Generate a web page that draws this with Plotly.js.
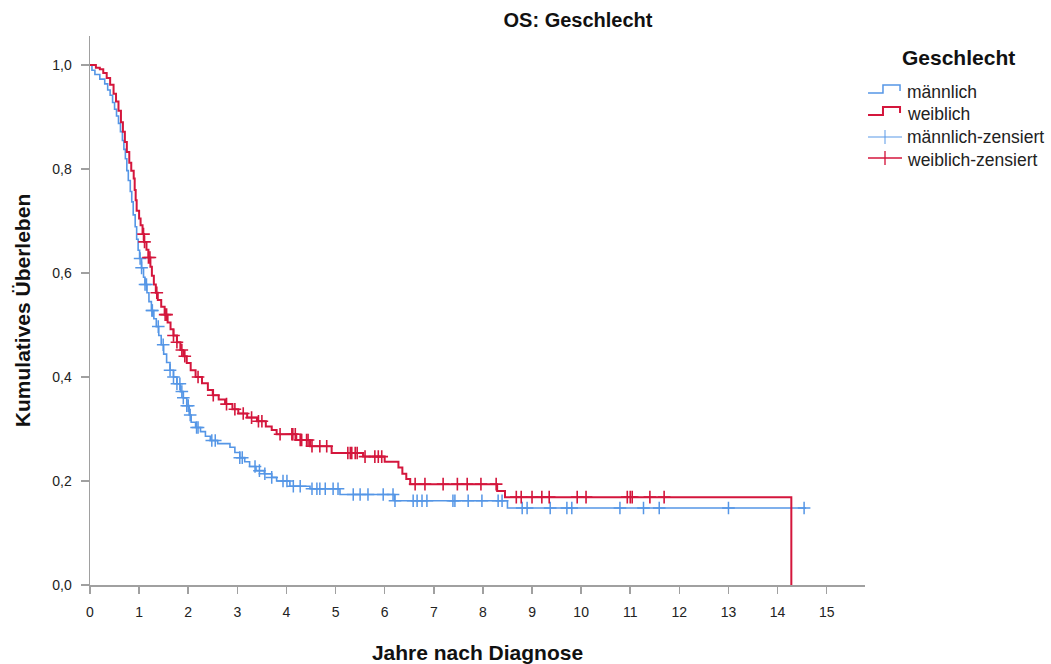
<!DOCTYPE html>
<html>
<head>
<meta charset="utf-8">
<script src="https://cdn.plot.ly/plotly-3.0.1.min.js"></script>
<style>html,body{margin:0;padding:0;background:#fff;}#chart{width:1051px;height:664px;}</style>
</head>
<body>
<div id="chart"></div>
<script>
// Kaplan-Meier step data (Jahre nach Diagnose, kumulatives Überleben)
const maleTimes = [0,0.04,0.1,0.2,0.3,0.36,0.41,0.46,0.5,0.54,0.58,0.62,0.66,0.69,0.72,0.75,0.78,0.82,0.85,0.88,0.92,0.95,0.98,1.01,1.05,1.09,1.12,1.16,1.2,1.25,1.3,1.35,1.4,1.45,1.5,1.56,1.63,1.7,1.77,1.84,1.9,1.97,2.02,2.06,2.15,2.25,2.35,2.45,2.6,2.85,2.95,3.05,3.15,3.25,3.38,3.55,3.7,3.8,4.07,4.48,5.09,6.2,8.5,14.58];
const maleSurv  = [1,0.99,0.982,0.973,0.964,0.952,0.942,0.928,0.915,0.902,0.888,0.872,0.855,0.838,0.82,0.797,0.778,0.757,0.737,0.712,0.689,0.665,0.644,0.628,0.61,0.592,0.578,0.562,0.545,0.528,0.512,0.497,0.48,0.462,0.444,0.428,0.413,0.4,0.387,0.372,0.36,0.345,0.327,0.313,0.303,0.295,0.286,0.278,0.272,0.265,0.255,0.245,0.237,0.228,0.22,0.214,0.207,0.2,0.19,0.185,0.174,0.162,0.148,0.148];
const femaleTimes = [0,0.12,0.2,0.27,0.34,0.41,0.48,0.53,0.58,0.63,0.67,0.71,0.75,0.8,0.84,0.89,0.91,0.93,0.95,1.0,1.03,1.07,1.1,1.15,1.19,1.23,1.26,1.3,1.34,1.38,1.45,1.52,1.58,1.64,1.7,1.77,1.84,1.9,1.97,2.05,2.15,2.28,2.4,2.5,2.62,2.75,2.9,3.02,3.2,3.4,3.58,3.7,3.8,4.2,4.48,4.92,5.56,6.0,6.28,6.36,6.44,6.52,8.29,8.45,14.28];
const femaleSurv  = [1,0.995,0.992,0.985,0.975,0.962,0.945,0.93,0.912,0.89,0.872,0.852,0.833,0.812,0.797,0.782,0.76,0.74,0.72,0.705,0.692,0.675,0.66,0.645,0.63,0.612,0.595,0.578,0.562,0.548,0.535,0.52,0.505,0.492,0.48,0.467,0.452,0.44,0.427,0.413,0.4,0.388,0.375,0.365,0.357,0.348,0.338,0.33,0.322,0.315,0.305,0.298,0.29,0.279,0.267,0.254,0.247,0.237,0.226,0.214,0.204,0.194,0.181,0.169,0];
// censored observation times
const maleCensored = [1.02,1.05,1.12,1.15,1.26,1.27,1.39,1.49,1.63,1.7,1.77,1.83,1.87,1.9,1.97,2.0,2.04,2.17,2.2,2.48,2.55,3.05,3.1,3.36,3.45,3.56,3.7,3.93,4.01,4.14,4.28,4.52,4.62,4.68,4.79,4.95,5.05,5.36,5.5,5.66,5.97,6.17,6.21,6.58,6.66,6.76,6.86,7.39,7.43,7.7,7.98,8.31,8.39,8.8,8.9,9.37,9.71,9.81,10.79,11.27,11.59,13.0,14.54];
const femaleCensored = [1.09,1.11,1.19,1.22,1.36,1.53,1.56,1.7,1.77,1.87,1.93,2.2,2.51,2.78,2.95,3.12,3.29,3.43,3.5,3.87,4.11,4.13,4.18,4.28,4.31,4.41,4.44,4.52,4.68,4.82,5.25,5.3,5.33,5.4,5.44,5.6,5.8,5.87,5.94,6.62,6.82,7.19,7.48,7.68,7.96,8.27,8.68,8.78,9.0,9.2,9.35,9.92,10.1,10.94,11.0,11.04,11.4,11.69];
const groupLabels = ['männlich','weiblich','männlich-zensiert','weiblich-zensiert'];
const xTickVals = [0,1,2,3,4,5,6,7,8,9,10,11,12,13,14,15];
const yTickVals = [0,0.2,0.4,0.6,0.8,1.0];
const yTickText = ['0,0','0,2','0,4','0,6','0,8','1,0'];

const BLUE = '#5596e6', RED = '#d4163c';
function survAt(times, surv, t){ let s = surv[0]; for(let i=0;i<times.length;i++){ if(times[i] <= t) s = surv[i]; else break; } return s; }

const traces = [
  {x: maleTimes, y: maleSurv, mode:'lines', line:{shape:'hv', color:BLUE, width:1.6}, showlegend:false, hoverinfo:'skip'},
  {x: femaleTimes, y: femaleSurv, mode:'lines', line:{shape:'hv', color:RED, width:2}, showlegend:false, hoverinfo:'skip'},
  {x: maleCensored, y: maleCensored.map(t=>survAt(maleTimes, maleSurv, t)), mode:'markers', marker:{symbol:'cross-thin', size:9, line:{color:BLUE, width:1.5}}, showlegend:false, hoverinfo:'skip'},
  {x: femaleCensored, y: femaleCensored.map(t=>survAt(femaleTimes, femaleSurv, t)), mode:'markers', marker:{symbol:'cross-thin', size:9, line:{color:RED, width:1.6}}, showlegend:false, hoverinfo:'skip'}
];

// pixel -> paper helpers for the hand-drawn legend
const L=90, R=865, T=36, B=585;
const px = v => (v-L)/(R-L);
const py = v => (B-v)/(B-T);
function path(pts){ return pts.map((p,i)=>(i?'L':'M')+px(p[0]).toFixed(4)+','+py(p[1]).toFixed(4)).join(' '); }

const shapes = [
  {type:'path', xref:'paper', yref:'paper', path: path([[868,93],[883,93],[883,85],[900,85],[900,91]]), line:{color:BLUE, width:1.5}},
  {type:'path', xref:'paper', yref:'paper', path: path([[868,115],[883,115],[883,107],[900,107],[900,113]]), line:{color:RED, width:2}},
  {type:'line', xref:'paper', yref:'paper', x0:px(868), x1:px(902), y0:py(137), y1:py(137), line:{color:'rgba(85,150,230,0.65)', width:1.5}},
  {type:'line', xref:'paper', yref:'paper', x0:px(885), x1:px(885), y0:py(130), y1:py(144), line:{color:'rgba(85,150,230,0.65)', width:1.5}},
  {type:'line', xref:'paper', yref:'paper', x0:px(868), x1:px(902), y0:py(158), y1:py(158), line:{color:'rgba(212,22,60,0.75)', width:1.8}},
  {type:'line', xref:'paper', yref:'paper', x0:px(885), x1:px(885), y0:py(151), y1:py(165), line:{color:'rgba(212,22,60,0.75)', width:1.8}}
];
const legY = [92,114,137,160];
const annotations = [
  {xref:'paper', yref:'paper', x:px(958), y:py(57), text:'<b>Geschlecht</b>', showarrow:false, xanchor:'center', yanchor:'middle', font:{family:'Liberation Sans, Arial, sans-serif', size:21, color:'#111'}}
].concat(groupLabels.map((t,i)=>({xref:'paper', yref:'paper', x:px(905), y:py(legY[i]), text:t, showarrow:false, xanchor:'left', yanchor:'middle', font:{family:'Liberation Sans, Arial, sans-serif', size:17.5, color:'#222'}})));

const layout = {
  width:1051, height:664,
  margin:{l:L, r:1051-R, t:T, b:664-B, pad:0},
  paper_bgcolor:'#fff', plot_bgcolor:'#fff',
  font:{family:'Liberation Sans, Arial, sans-serif', color:'#222', size:14},
  title:{text:'<b>OS: Geschlecht</b>', x:578/1051, xref:'container', xanchor:'center', y:1-20/664, yref:'container', yanchor:'middle', font:{size:20, color:'#111'}},
  xaxis:{range:[0,15.78], tickvals:xTickVals, ticks:'outside', ticklen:7, tickcolor:'#a0a0a0', tickwidth:1.5, showline:true, linecolor:'#a0a0a0', linewidth:1.5, showgrid:false, zeroline:false, tickfont:{size:14, color:'#222'}, ticklabelstandoff:7,
         title:{text:'<b>Jahre nach Diagnose</b>', font:{size:21, color:'#111'}, standoff:27}},
  yaxis:{range:[0,1.056], tickvals:yTickVals, ticktext:yTickText, ticks:'outside', ticklen:8, tickcolor:'#a0a0a0', tickwidth:1.5, showline:true, linecolor:'#a0a0a0', linewidth:1.5, showgrid:false, zeroline:false, tickfont:{size:14, color:'#222'}, ticklabelstandoff:6,
         title:{text:'<b>Kumulatives Überleben</b>', font:{size:21, color:'#111'}, standoff:16}},
  shapes: shapes,
  annotations: annotations,
  showlegend:false
};
Plotly.newPlot('chart', traces, layout, {displayModeBar:false, staticPlot:true});
</script>
</body>
</html>
